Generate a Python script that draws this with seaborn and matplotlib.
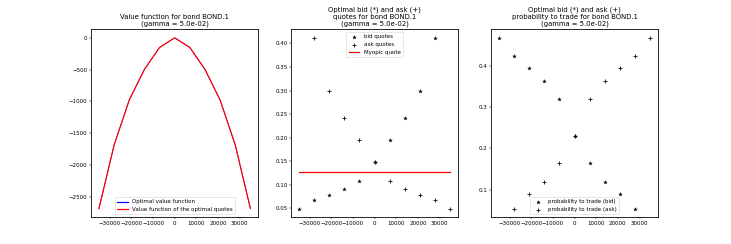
import matplotlib
matplotlib.use('Agg')
import matplotlib.pyplot as plt
import seaborn as sns

# inventory grid (bond BOND.1)
inventory = [-35000, -28000, -21000, -14000, -7000, 0, 7000, 14000, 21000, 28000, 35000]

# value functions
value_optimal = [-2690, -1690, -980, -498, -152, 0, -152, -498, -980, -1690, -2690]
value_quotes = [-2690, -1690, -980, -498, -152, 0, -152, -498, -980, -1690, -2690]

# quotes: bid defined up to 28000, ask from -28000
bid_x = inventory[:-1]
bid_quotes = [0.049, 0.067, 0.078, 0.090, 0.108, 0.149, 0.194, 0.242, 0.298, 0.412]
ask_x = inventory[1:]
ask_quotes = [0.412, 0.298, 0.242, 0.194, 0.149, 0.108, 0.090, 0.078, 0.067, 0.049]
myopic_quote = 0.126

# probabilities to trade
prob_bid = [0.467, 0.422, 0.394, 0.363, 0.318, 0.229, 0.164, 0.119, 0.089, 0.054]
prob_ask = [0.054, 0.089, 0.119, 0.164, 0.229, 0.318, 0.363, 0.394, 0.422, 0.467]

dpi = 39.5
plt.rcParams['axes.titlesize'] = 12.5
plt.rcParams['lines.linewidth'] = 2.2
plt.rcParams['axes.linewidth'] = 1.5
fig, axes = plt.subplots(1, 3, figsize=(731 / dpi, 244 / dpi), dpi=dpi)

# value function (red drawn over blue)
ax = axes[0]
sns.lineplot(x=inventory, y=value_optimal, color='blue', linewidth=1.2, label='Optimal value function', ax=ax)
sns.lineplot(x=inventory, y=value_quotes, color='red', label='Value function of the optimal quotes', ax=ax)
ax.set_title('Value function for bond BOND.1\n(gamma = 5.0e-02)')
leg = ax.legend(loc='lower center')
leg.get_lines()[0].set_linewidth(2.2)

# optimal quotes
ax = axes[1]
sns.scatterplot(x=bid_x, y=bid_quotes, marker='*', color='k', edgecolor='k', s=50, linewidth=0.5,
                label='bid quotes', ax=ax)
sns.scatterplot(x=ask_x, y=ask_quotes, marker='+', color='k', s=50, linewidth=1.5,
                label='ask quotes', ax=ax)
sns.lineplot(x=[inventory[0], inventory[-1]], y=[myopic_quote, myopic_quote], color='red',
             label='Myopic quote', ax=ax)
ax.set_title('Optimal bid (*) and ask (+)\nquotes for bond BOND.1\n(gamma = 5.0e-02)')
ax.legend(loc='upper center')

# probabilities
ax = axes[2]
sns.scatterplot(x=bid_x, y=prob_bid, marker='*', color='k', edgecolor='k', s=50, linewidth=0.5,
                label='probability to trade (bid)', ax=ax)
sns.scatterplot(x=ask_x, y=prob_ask, marker='+', color='k', s=50, linewidth=1.5,
                label='probability to trade (ask)', ax=ax)
ax.set_title('Optimal bid (*) and ask (+)\nprobability to trade for bond BOND.1\n(gamma = 5.0e-02)')
ax.legend(loc='lower center')

for ax in axes:
    ax.set_xticks([-30000, -20000, -10000, 0, 10000, 20000, 30000])

plt.savefig('out.png', dpi=dpi)
